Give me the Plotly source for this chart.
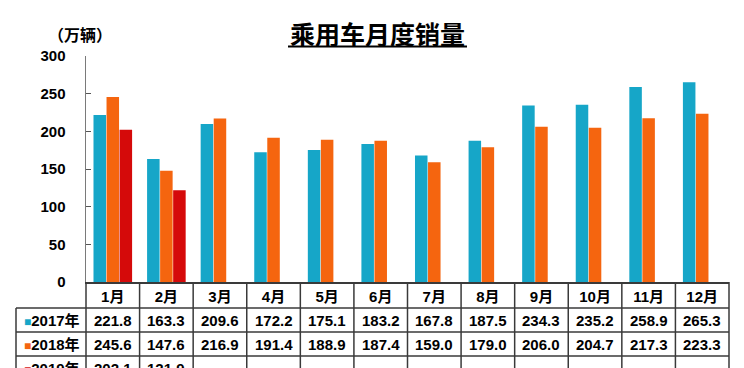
import plotly.graph_objects as go

months = ['1月', '2月', '3月', '4月', '5月', '6月', '7月', '8月', '9月', '10月', '11月', '12月']
s2017 = [221.8, 163.3, 209.6, 172.2, 175.1, 183.2, 167.8, 187.5, 234.3, 235.2, 258.9, 265.3]
s2018 = [245.6, 147.6, 216.9, 191.4, 188.9, 187.4, 159.0, 179.0, 206.0, 204.7, 217.3, 223.3]
s2019 = [202.1, 121.9, None, None, None, None, None, None, None, None, None, None]
series_names = ['2017年', '2018年', '2019年']
y_ticks = [0, 50, 100, 150, 200, 250, 300]

colors = ['#16A6C8', '#F5650F', '#D50A0A']
FONT = 'Liberation Sans, Noto Sans CJK SC, sans-serif'

W, H = 744, 368
L, R, T, B = 86, 15, 56, 86
PW, PH = W - L - R, H - T - B


def px(p):
    return (p - L) / PW


def py(p):
    return (H - B - p) / PH


fig = go.Figure()
for name, vals, c in zip(series_names, [s2017, s2018, s2019], colors):
    fig.add_trace(go.Bar(x=months, y=vals, name=name, marker=dict(color=c, line=dict(width=0)),
                         hoverinfo='skip'))

line_c = '#3a3a3a'
shapes = []
# horizontal table lines
row_edges = [308, 332, 356, 380]
for yy in row_edges:
    shapes.append(dict(type='line', xref='paper', yref='paper', x0=px(16), x1=px(W - R), y0=py(yy), y1=py(yy),
                       line=dict(color=line_c, width=1.5)))
# vertical lines
shapes.append(dict(type='line', xref='paper', yref='paper', x0=px(16), x1=px(16), y0=py(308), y1=py(390),
                   line=dict(color=line_c, width=1.5)))
for k in range(13):
    xx = L + k * PW / 12
    shapes.append(dict(type='line', xref='paper', yref='paper', x0=px(xx), x1=px(xx), y0=py(H - B), y1=py(390),
                       line=dict(color=line_c, width=1.5)))
# title underline
shapes.append(dict(type='line', xref='paper', yref='paper', x0=px(288), x1=px(467), y0=py(46.5), y1=py(46.5),
                   line=dict(color='black', width=2)))

annotations = []
row_centers = [320, 344, 368]
for name, vals, c, yc in zip(series_names, [s2017, s2018, s2019], colors, row_centers):
    annotations.append(dict(xref='paper', yref='paper', x=px(51.5), y=py(yc), xanchor='center', yanchor='middle',
                            text=f"<span style='color:{c};font-size:12px'>■</span>{name}", showarrow=False,
                            font=dict(family=FONT, size=15, color='black', weight=700)))
    for m, v in zip(months, vals):
        if v is None:
            continue
        annotations.append(dict(xref='x', yref='paper', x=m, y=py(yc), xanchor='center', yanchor='middle',
                                text=f"{v:.1f}", showarrow=False,
                                font=dict(family=FONT, size=15, color='black', weight=700)))

annotations.append(dict(xref='paper', yref='paper', x=px(377), y=py(35), xanchor='center', yanchor='middle',
                        text='乘用车月度销量', showarrow=False,
                        font=dict(family=FONT, size=25, color='black', weight=700)))
annotations.append(dict(xref='paper', yref='paper', x=px(80), y=py(34), xanchor='center', yanchor='middle',
                        text='（万辆）', showarrow=False,
                        font=dict(family='Noto Sans CJK SC, sans-serif', size=16, color='black', weight=700)))

fig.update_layout(
    width=W, height=H,
    margin=dict(l=L, r=R, t=T, b=B, pad=0),
    paper_bgcolor='white', plot_bgcolor='white',
    barmode='group', bargap=0.27, bargroupgap=0.04,
    showlegend=False, hovermode=False,
    shapes=shapes, annotations=annotations,
    font=dict(family=FONT, color='black'),
)
fig.update_xaxes(showgrid=False, showline=True, linecolor=line_c, linewidth=1.5, ticks='',
                 tickfont=dict(family=FONT, size=15, color='black', weight=700), ticklabelstandoff=0,
                 range=[-0.5, 11.5], fixedrange=True)
fig.update_yaxes(range=[0, 300], tickvals=y_ticks, showgrid=False, zeroline=False, showline=True,
                 linecolor='#7a7a7a', linewidth=1.5, ticks='inside', ticklen=5, tickcolor='#555',
                 tickfont=dict(family=FONT, size=15, color='black', weight=700), ticklabelstandoff=16,
                 fixedrange=True)

fig.write_html('out.html', config={'displayModeBar': False, 'staticPlot': True},
               post_script="document.body.style.margin='0';document.body.style.overflow='hidden';")
